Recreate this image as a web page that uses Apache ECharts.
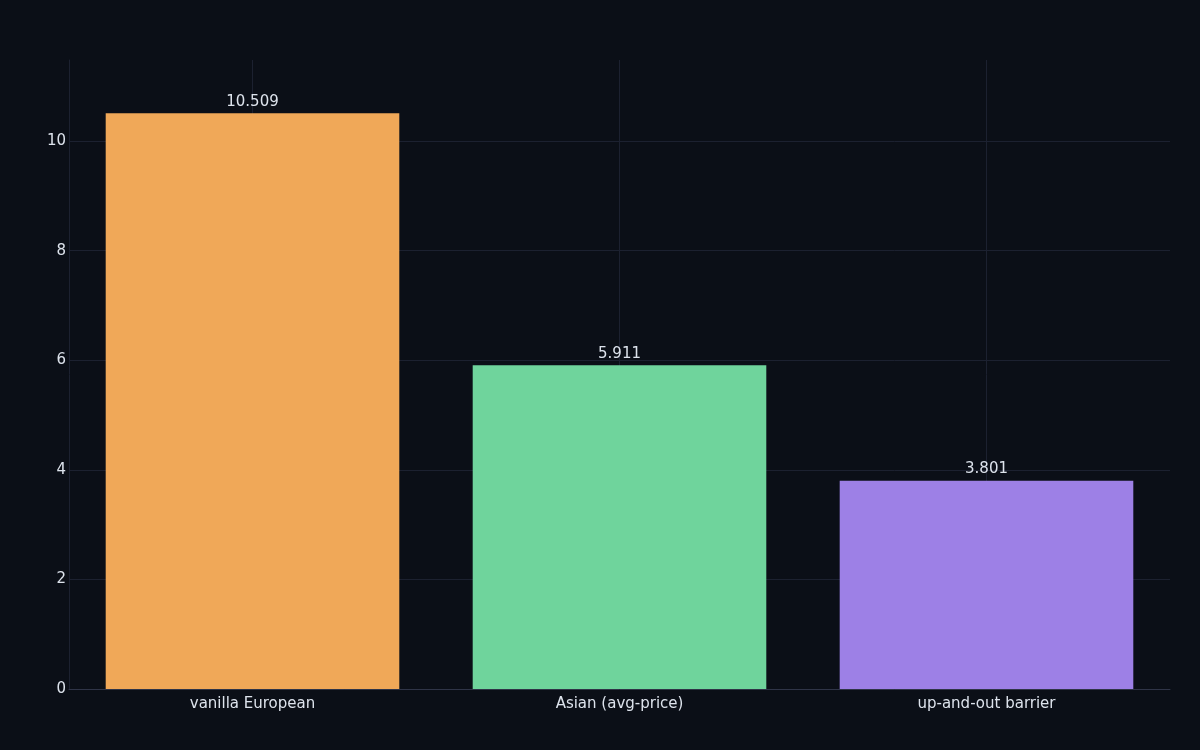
<!DOCTYPE html>
<html>
<head>
<meta charset="utf-8">
<script src="https://cdn.jsdelivr.net/npm/echarts@6/dist/echarts.min.js"></script>
<style>
html,body{margin:0;padding:0;background:#0b0f17;}
#chart{width:1200px;height:750px;}
</style>
</head>
<body>
<div id="chart"></div>
<script>
const categories = ["vanilla European", "Asian (avg-price)", "up-and-out barrier"];
const prices = [10.509, 5.911, 3.801];
const barColors = ["#f0a858", "#6fd49c", "#9d80e6"];
const yTicks = [0, 2, 4, 6, 8, 10];

const chart = echarts.init(document.getElementById('chart'));
chart.setOption({
  backgroundColor: '#0b0f17',
  animation: false,
  textStyle: { fontFamily: 'DejaVu Sans' },
  grid: { left: 69, right: 30, top: 60, bottom: 61, containLabel: false },
  xAxis: {
    type: 'category',
    data: categories,
    axisLine: { show: true, lineStyle: { color: '#2f3447', width: 1 } },
    axisTick: { show: false },
    axisLabel: { color: '#dde3ec', fontSize: 15, margin: 8, fontFamily: 'DejaVu Sans' },
    splitLine: { show: true, alignWithLabel: true, lineStyle: { color: '#1c2130', width: 1 } }
  },
  yAxis: {
    type: 'value',
    min: 0,
    max: 11.48,
    interval: 2,
    axisLine: { show: true, lineStyle: { color: '#1c2130', width: 1 } },
    axisTick: { show: false },
    axisLabel: {
      color: '#dde3ec', fontSize: 15, margin: 3, fontFamily: 'DejaVu Sans',
      showMaxLabel: false,
      formatter: v => yTicks.includes(v) ? String(v) : ''
    },
    splitLine: { show: true, showMaxLine: false, lineStyle: { color: '#1c2130', width: 1 } }
  },
  series: [{
    type: 'bar',
    data: prices.map((v, i) => ({ value: v, itemStyle: { color: barColors[i] } })),
    barCategoryGap: '20%',
    label: {
      show: true,
      position: 'top',
      distance: 4,
      color: '#dde3ec',
      fontSize: 15,
      fontFamily: 'DejaVu Sans',
      formatter: p => prices[p.dataIndex].toFixed(3)
    }
  }]
});
</script>
</body>
</html>
